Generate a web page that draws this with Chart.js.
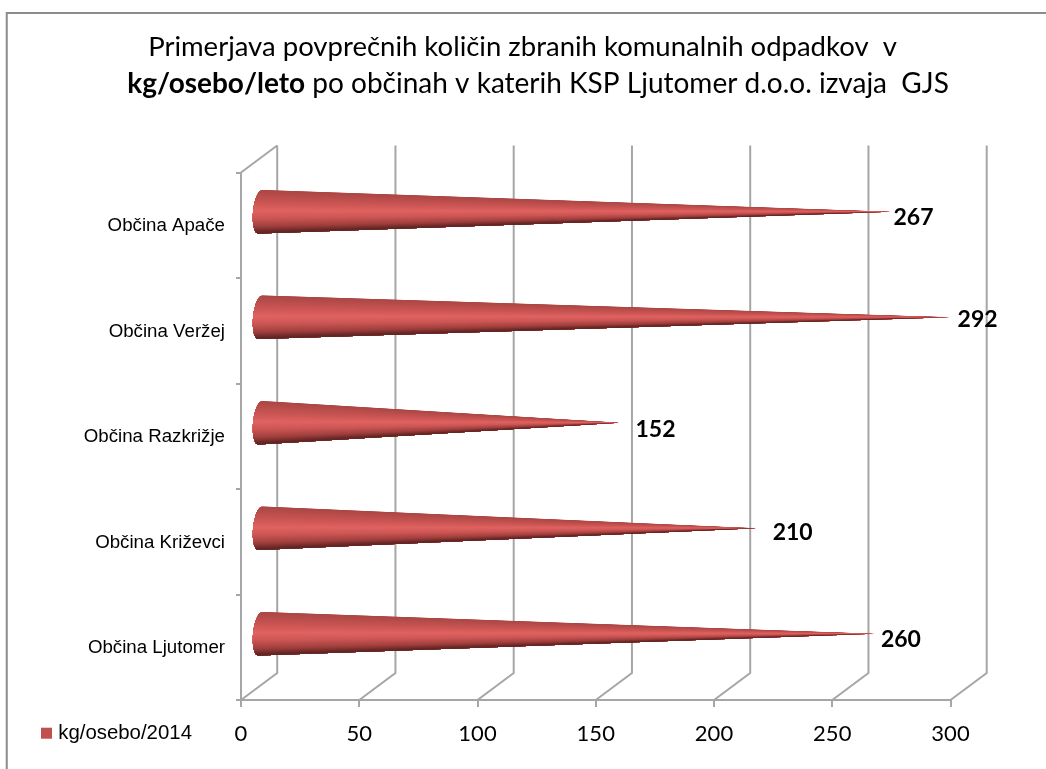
<!DOCTYPE html>
<html>
<head>
<meta charset="utf-8">
<title>Primerjava komunalnih odpadkov</title>
<script src="https://cdn.jsdelivr.net/npm/chart.js@4/dist/chart.umd.js"></script>
<style>
    html, body { margin: 0; padding: 0; background: #fff; }
    #graph { display: block; }
</style>
</head>
<body>
<canvas id="graph" width="1046" height="769"></canvas>
<script>
var categories = ['Občina Apače', 'Občina Veržej', 'Občina Razkrižje', 'Občina Križevci', 'Občina Ljutomer'];
var kg_osebo_2014 = [267, 292, 152, 210, 260];
var x_ticks = [0, 50, 100, 150, 200, 250, 300];
var series_name = 'kg/osebo/2014';
var title_line1 = 'Primerjava povprečnih količin zbranih komunalnih odpadkov  v';
var title_line2_bold = 'kg/osebo/leto';
var title_line2 = ' po občinah v katerih KSP Ljutomer d.o.o. izvaja  GJS';

// the value labels were moved by hand in the original, so each one has its own shift
var label_shift_x = [41, 46, 55, 55, 45];
var label_shift_y = [-8, -11, -7, -9, -8];

var grid_color = '#a6a6a6';
var depth_x = 36.2;   // back wall of the 3d box
var depth_y = -27;

// colour across the cone, t goes from -1 (top edge) to 1 (bottom edge)
function cone_color(t) {
    var stops = [
        [-1, 168, 70, 68],
        [-0.35, 204, 87, 85],
        [0, 224, 99, 97],
        [0.35, 204, 87, 85],
        [0.75, 158, 63, 61],
        [1, 96, 37, 36]
    ];
    for (var i = 1; i < stops.length; i++) {
        if (t <= stops[i][0]) {
            var a = stops[i - 1], b = stops[i];
            var k = (t - a[0]) / (b[0] - a[0]);
            return 'rgb(' + [1, 2, 3].map(n => Math.round(a[n] + (b[n] - a[n]) * k)).join(',') + ')';
        }
    }
    return 'rgb(96,37,36)';
}

function draw_cone(ctx, base_x, tip_x, cy, half) {
    var rx = 7;
    var n = 90;
    var edge = t => ({
        x: base_x - rx * Math.sqrt(Math.max(0, 1 - t * t)) - t * 2,
        y: cy + half * t
    });

    ctx.save();
    ctx.beginPath();
    ctx.moveTo(tip_x, cy);
    for (var j = 0; j <= n; j++) {
        var p = edge(-1 + 2 * j / n);
        ctx.lineTo(p.x, p.y);
    }
    ctx.closePath();
    ctx.clip();

    // painted top to bottom, each fan piece covers all that is left below it
    var low = edge(1);
    for (var i = 0; i < n; i++) {
        var t1 = -1 + 2 * i / n;
        var p1 = edge(t1);
        ctx.beginPath();
        ctx.moveTo(p1.x - 1, p1.y - 1);
        for (var k = i + 1; k <= n; k++) {
            var q = edge(-1 + 2 * k / n);
            ctx.lineTo(q.x - 1, q.y);
        }
        ctx.lineTo(low.x, low.y + 2);
        ctx.lineTo(tip_x + 2, cy);
        ctx.closePath();
        ctx.fillStyle = cone_color(t1 + 1 / n);
        ctx.fill();
    }
    ctx.restore();

    // the tip is thinner than a pixel, keep it visible
    var fade = ctx.createLinearGradient(tip_x - 50, 0, tip_x, 0);
    fade.addColorStop(0, 'rgba(224,99,97,0.6)');
    fade.addColorStop(1, 'rgba(224,120,118,0.25)');
    ctx.beginPath();
    ctx.moveTo(tip_x - 50, cy);
    ctx.lineTo(tip_x, cy);
    ctx.strokeStyle = fade;
    ctx.lineWidth = 1;
    ctx.stroke();
}

var box_plugin = {
    id: 'box_plugin',
    afterLayout(chart) {
        // legend sits on the row of the x tick labels
        var legend = chart.legend;
        legend.left = 35;
        legend.right = 200;
        legend.top = 713;
        legend.bottom = 746;
    },
    beforeDraw(chart) {
        var ctx = chart.ctx;
        ctx.save();
        // only the top and left sides of the frame are in the picture
        ctx.strokeStyle = '#8c8c8c';
        ctx.lineWidth = 2;
        ctx.beginPath();
        ctx.moveTo(6.75, 769);
        ctx.lineTo(6.75, 13);
        ctx.lineTo(1046, 13);
        ctx.stroke();

        // title, second line starts with a bold part
        ctx.fillStyle = '#000';
        ctx.textBaseline = 'alphabetic';
        ctx.textAlign = 'left';
        ctx.font = '27.5px Lato';
        var w1 = ctx.measureText(title_line1).width;
        ctx.fillText(title_line1, 522.5 - w1 / 2, 56);
        ctx.font = '28px Lato';
        var w3 = ctx.measureText(title_line2).width;
        ctx.font = 'bold 28px Lato';
        var w2 = ctx.measureText(title_line2_bold).width;
        var start = 538 - (w2 + w3) / 2;
        ctx.fillText(title_line2_bold, start, 93);
        ctx.font = '28px Lato';
        ctx.fillText(title_line2, start + w2, 93);
        ctx.restore();
    },
    beforeDatasetsDraw(chart) {
        var ctx = chart.ctx;
        var area = chart.chartArea;
        var x = chart.scales.x;
        var y = chart.scales.y;
        var band = y.getPixelForValue(1) - y.getPixelForValue(0);

        ctx.save();
        ctx.strokeStyle = grid_color;
        ctx.lineWidth = 2;
        // floor lines and back wall
        x_ticks.forEach(v => {
            var px = x.getPixelForValue(v);
            ctx.beginPath();
            ctx.moveTo(px, area.bottom);
            ctx.lineTo(px + depth_x, area.bottom + depth_y);
            ctx.lineTo(px + depth_x, area.top + depth_y);
            ctx.stroke();
        });
        ctx.beginPath();
        ctx.moveTo(area.left, area.top);
        ctx.lineTo(area.left + depth_x, area.top + depth_y);
        ctx.stroke();

        // cones stand in the middle of the box depth
        var meta = chart.getDatasetMeta(0);
        meta.data.forEach(bar => {
            draw_cone(ctx, bar.base + depth_x / 2, bar.x + depth_x / 2, bar.y + depth_y / 2, band * 0.205);
        });

        ctx.fillStyle = '#000';
        ctx.font = 'bold 23px Lato';
        ctx.textAlign = 'center';
        ctx.textBaseline = 'middle';
        meta.data.forEach((bar, i) => {
            ctx.fillText(kg_osebo_2014[i], bar.x + label_shift_x[i], bar.y + label_shift_y[i]);
        });
        ctx.restore();
        return false;
    }
};

window.onload = () => {
    new Chart('graph', {
        type: 'bar',
        data: {
            labels: categories,
            datasets: [{
                label: series_name,
                data: kg_osebo_2014,
                backgroundColor: '#c0504d',
                borderColor: '#c0504d',
                borderWidth: 8
            }]
        },
        options: {
            indexAxis: 'y',
            responsive: false,
            animation: false,
            layout: { padding: { top: 172.5, right: 95.5, left: 0, bottom: 0 } },
            scales: {
                x: {
                    min: 0,
                    max: 300,
                    afterBuildTicks: axis => { axis.ticks = x_ticks.map(v => ({ value: v })); },
                    afterFit: axis => { axis.height = 69; },
                    border: { color: grid_color, width: 2 },
                    grid: { drawOnChartArea: false, color: grid_color, lineWidth: 2, tickLength: 7 },
                    ticks: { font: { family: 'Lato', size: 22 }, color: '#000', maxRotation: 0, padding: 14 }
                },
                y: {
                    afterFit: axis => { axis.width = 241; },
                    border: { color: grid_color, width: 2 },
                    grid: { drawOnChartArea: false, color: grid_color, lineWidth: 2, tickLength: 5, offset: true },
                    ticks: { font: { family: 'Liberation Sans', size: 18.7 }, color: '#000', padding: 11, labelOffset: 1 }
                }
            },
            plugins: {
                tooltip: { enabled: false },
                legend: {
                    position: 'chartArea',
                    align: 'start',
                    labels: {
                        boxWidth: 3,
                        boxHeight: 3,
                        font: { family: 'Liberation Sans', size: 20.4 },
                        color: '#000'
                    }
                }
            }
        },
        plugins: [box_plugin]
    });
};
</script>
</body>
</html>
